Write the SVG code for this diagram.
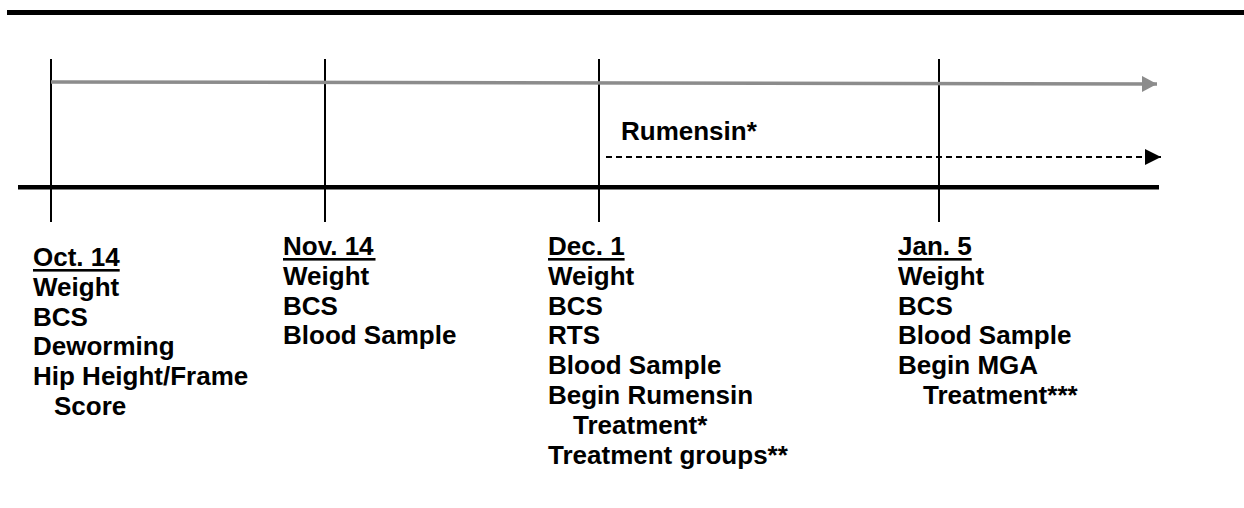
<svg xmlns="http://www.w3.org/2000/svg" width="1244" height="508" viewBox="0 0 1244 508">
<style>
.t{font-family:"Liberation Sans",Arial,sans-serif;font-weight:bold;font-size:26px;fill:#000}
.tick{stroke:#000;stroke-width:2}
.ul{fill:#000}
</style>
<defs>
<marker id="grayHead" markerUnits="userSpaceOnUse" markerWidth="16" markerHeight="17" refX="15" refY="8" orient="auto" viewBox="0 0 16 17">
<path d="M0,0 L15,8 L0,16 Z" fill="#8c8c8c"/>
</marker>
<marker id="blackHead" markerUnits="userSpaceOnUse" markerWidth="17" markerHeight="17" refX="16" refY="8" orient="auto" viewBox="0 0 17 17">
<path d="M0,0 L16,8 L0,16 Z" fill="#000"/>
</marker>
</defs>
<rect width="1244" height="508" fill="#fff"/>
<g id="frame">
<rect x="7" y="10" width="1237" height="5" fill="#000"/>
<rect x="18" y="185" width="1141" height="4.5" fill="#000"/>
</g>
<g id="ticks">
<line class="tick" x1="51" y1="59" x2="51" y2="222"/>
<line class="tick" x1="325" y1="59" x2="325" y2="222"/>
<line class="tick" x1="599" y1="59" x2="599" y2="222"/>
<line class="tick" x1="939" y1="59" x2="939" y2="222"/>
</g>
<g id="connectors">
<line x1="51" y1="82" x2="1157" y2="84" stroke="#8c8c8c" stroke-width="3.5" marker-end="url(#grayHead)"/>
<line x1="606" y1="157" x2="1161" y2="157" stroke="#000" stroke-width="2" stroke-dasharray="6 4" marker-end="url(#blackHead)"/>
</g>
<g id="label-rumensin">
<text class="t" x="621" y="140">Rumensin*</text>
</g>
<g id="oct14">
<text class="t" x="33" y="266">Oct. 14</text>
<rect class="ul" x="33" y="269" width="86.7" height="2.6"/>
<text class="t" x="33" y="296">Weight</text>
<text class="t" x="33" y="326">BCS</text>
<text class="t" x="33" y="355">Deworming</text>
<text class="t" x="33" y="385">Hip Height/Frame</text>
<text class="t" x="54" y="415">Score</text>
</g>
<g id="nov14">
<text class="t" x="283" y="255">Nov. 14</text>
<rect class="ul" x="283" y="258" width="92.5" height="2.6"/>
<text class="t" x="283" y="285">Weight</text>
<text class="t" x="283" y="315">BCS</text>
<text class="t" x="283" y="344">Blood Sample</text>
</g>
<g id="dec1">
<text class="t" x="548" y="255">Dec. 1</text>
<rect class="ul" x="548" y="258" width="76.6" height="2.6"/>
<text class="t" x="548" y="285">Weight</text>
<text class="t" x="548" y="315">BCS</text>
<text class="t" x="548" y="344">RTS</text>
<text class="t" x="548" y="374">Blood Sample</text>
<text class="t" x="548" y="404">Begin Rumensin</text>
<text class="t" x="573" y="434">Treatment*</text>
<text class="t" x="548" y="464">Treatment groups**</text>
</g>
<g id="jan5">
<text class="t" x="898" y="255">Jan. 5</text>
<rect class="ul" x="898" y="258" width="73.7" height="2.6"/>
<text class="t" x="898" y="285">Weight</text>
<text class="t" x="898" y="315">BCS</text>
<text class="t" x="898" y="344">Blood Sample</text>
<text class="t" x="898" y="374">Begin MGA</text>
<text class="t" x="923" y="404">Treatment***</text>
</g>
</svg>
